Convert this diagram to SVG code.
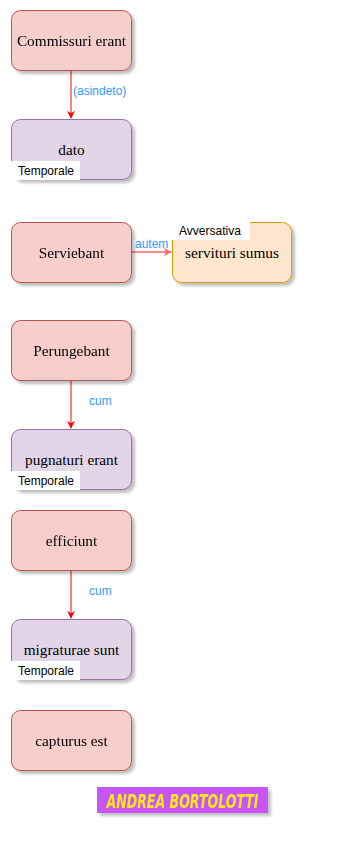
<svg xmlns="http://www.w3.org/2000/svg" width="356" height="846" viewBox="0 0 356 846">
  <defs>
    <filter id="shadow" x="-10%" y="-10%" width="130%" height="140%">
      <feGaussianBlur in="SourceAlpha" stdDeviation="1.5"/>
      <feOffset dx="3" dy="3" result="b"/>
      <feComponentTransfer><feFuncA type="linear" slope="0.25"/></feComponentTransfer>
      <feMerge><feMergeNode/><feMergeNode in="SourceGraphic"/></feMerge>
    </filter>
    <marker id="arrowRed" viewBox="0 0 10 10" refX="9" refY="5" markerWidth="8" markerHeight="8" markerUnits="userSpaceOnUse" orient="auto">
      <path d="M0,0 L10,5 L0,10 L3,5 Z" fill="#ff0000"/>
    </marker>
    <marker id="arrowPink" viewBox="0 0 10 10" refX="9" refY="5" markerWidth="8" markerHeight="8" markerUnits="userSpaceOnUse" orient="auto">
      <path d="M0,0 L10,5 L0,10 L3,5 Z" fill="#ff6666"/>
    </marker>
  </defs>
  <style>
    .main { fill: #f8cecc; stroke: #b85450; stroke-width: 1; }
    .temp { fill: #e1d5e7; stroke: #9673a6; stroke-width: 1; }
    .adv { fill: #ffe6cc; stroke: #d79b00; stroke-width: 1; }
    .lbl { font-family: "Liberation Serif", "DejaVu Serif", serif; font-size: 15.3px; fill: #000; text-anchor: middle; }
    .tag { fill: #ffffff; }
    .tagtxt { font-family: "Liberation Sans", Arial, sans-serif; font-size: 12px; fill: #000; }
    .edge { font-family: "Liberation Sans", Arial, sans-serif; font-size: 12px; fill: #3399ff; }
  </style>

  <g id="connectors">
    <line x1="71" y1="71" x2="71" y2="118" stroke="#ff0000" stroke-width="1" marker-end="url(#arrowRed)"/>
    <text class="edge" x="73" y="95">(asindeto)</text>
    <line x1="132" y1="252" x2="171" y2="252" stroke="#ff6666" stroke-width="1.5" marker-end="url(#arrowPink)"/>
    <text class="edge" x="135" y="248">autem</text>
    <line x1="71" y1="381" x2="71" y2="428" stroke="#ff0000" stroke-width="1" marker-end="url(#arrowRed)"/>
    <text class="edge" x="89" y="405">cum</text>
    <line x1="71" y1="571" x2="71" y2="618" stroke="#ff0000" stroke-width="1" marker-end="url(#arrowRed)"/>
    <text class="edge" x="89" y="595">cum</text>
  </g>

  <g id="n-commissuri" filter="url(#shadow)">
    <rect class="main" x="11.5" y="10.5" width="120" height="60" rx="9"/>
    <text class="lbl" x="71.5" y="46">Commissuri erant</text>
  </g>

  <g id="n-dato">
    <rect class="temp" x="11.5" y="119.5" width="120" height="60" rx="9" filter="url(#shadow)"/>
    <text class="lbl" x="71.5" y="155">dato</text>
    <rect class="tag" x="11" y="161" width="69" height="19"/>
    <text class="tagtxt" x="18" y="175">Temporale</text>
  </g>

  <g id="n-serviebant" filter="url(#shadow)">
    <rect class="main" x="11.5" y="222.5" width="120" height="60" rx="9"/>
    <text class="lbl" x="71.5" y="258">Serviebant</text>
  </g>

  <g id="n-servituri">
    <rect class="adv" x="172.5" y="222.5" width="119" height="60" rx="9" filter="url(#shadow)"/>
    <text class="lbl" x="232" y="258">servituri sumus</text>
    <rect class="tag" x="172" y="222" width="78" height="18"/>
    <text class="tagtxt" x="179" y="235">Avversativa</text>
  </g>

  <g id="n-perungebant" filter="url(#shadow)">
    <rect class="main" x="11.5" y="320.5" width="120" height="60" rx="9"/>
    <text class="lbl" x="71.5" y="356">Perungebant</text>
  </g>

  <g id="n-pugnaturi">
    <rect class="temp" x="11.5" y="429.5" width="120" height="60" rx="9" filter="url(#shadow)"/>
    <text class="lbl" x="71.5" y="465">pugnaturi erant</text>
    <rect class="tag" x="11" y="471" width="69" height="19"/>
    <text class="tagtxt" x="18" y="485">Temporale</text>
  </g>

  <g id="n-efficiunt" filter="url(#shadow)">
    <rect class="main" x="11.5" y="510.5" width="120" height="60" rx="9"/>
    <text class="lbl" x="71.5" y="546">efficiunt</text>
  </g>

  <g id="n-migraturae">
    <rect class="temp" x="11.5" y="619.5" width="120" height="60" rx="9" filter="url(#shadow)"/>
    <text class="lbl" x="71.5" y="655">migraturae sunt</text>
    <rect class="tag" x="11" y="661" width="69" height="19"/>
    <text class="tagtxt" x="18" y="675">Temporale</text>
  </g>

  <g id="n-capturus" filter="url(#shadow)">
    <rect class="main" x="11.5" y="710.5" width="120" height="60" rx="9"/>
    <text class="lbl" x="71.5" y="746">capturus est</text>
  </g>

  <g id="n-author" filter="url(#shadow)">
    <rect x="97" y="787" width="171" height="26" fill="#c855f7"/>
    <text x="182.5" y="808" font-family="'DejaVu Sans Condensed', 'Liberation Sans Narrow', 'Liberation Sans', sans-serif" font-size="19" font-weight="bold" font-style="italic" fill="#ffe81a" text-anchor="middle" textLength="152" lengthAdjust="spacingAndGlyphs">ANDREA BORTOLOTTI</text>
  </g>
</svg>
